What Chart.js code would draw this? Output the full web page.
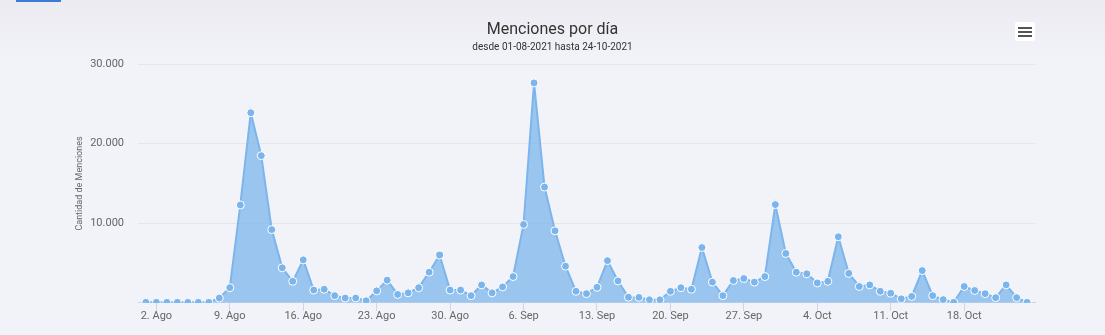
<!DOCTYPE html>
<html>
<head>
<meta charset="utf-8">
<script src="https://cdn.jsdelivr.net/npm/chart.js@4"></script>
<style>
  html, body { margin:0; padding:0; }
  body { width:1105px; height:335px; overflow:hidden; background:linear-gradient(#ebebf1, #f2f3f8 60px); font-family:Roboto, sans-serif; position:relative; }
  #topbar { position:absolute; left:16px; top:0; width:45px; height:2px; background:#3d7bd8; }
  #wrap { position:absolute; left:0; top:0; width:1105px; height:335px; }
  #menu { position:absolute; left:1015px; top:22px; width:20px; height:19px; background:#fff; border-radius:2px; }
  #menu span { position:absolute; left:3px; width:14px; height:2px; background:#555; }
</style>
</head>
<body>
<div id="topbar"></div>
<div id="wrap"><canvas id="chart"></canvas></div>
<div id="menu"><span style="top:5px"></span><span style="top:9px"></span><span style="top:13px"></span></div>
<script>
// días desde 01-08-2021 hasta 24-10-2021
const MONTHS = ['Ago','Sep','Oct'];
const DAYS_IN = [31, 30, 24];
const days = [];
MONTHS.forEach((m, i) => { for (let d = 1; d <= DAYS_IN[i]; d++) days.push(d + '. ' + m); });

// menciones por día
const menciones = [
  60, 60, 60, 60, 60, 60, 60, 600, 1900, 12300, 23900, 18500, 9200, 4400, 2700, 5400,
  1600, 1700, 900, 600, 600, 250, 1500, 2850, 1050, 1250, 1900, 3850, 6000, 1600, 1600,
  900, 2250, 1250, 2000, 3300, 9850, 27650, 14550, 9050, 4600, 1450, 1150, 1950, 5300, 2750,
  700, 680, 380, 380, 1450, 1900, 1700, 6950, 2600, 900, 2800, 3050, 2600, 3300,
  12350, 6200, 3850, 3650, 2500, 2700, 8300, 3700, 2050, 2250, 1450, 1200, 500, 800,
  4050, 900, 400, 60, 2050, 1550, 1150, 650, 2250, 650, 60
];

const xTicks = [];
for (let i = 1; i < days.length; i += 7) xTicks.push(i);
const yTicks = [10000, 20000, 30000];

const fmt = v => v.toLocaleString('de-DE');

new Chart(document.getElementById('chart'), {
  type: 'line',
  data: {
    datasets: [{
      label: 'Menciones',
      data: menciones.map((v, i) => ({ x: i, y: v })),
      borderColor: '#7cb5ec',
      borderWidth: 2,
      backgroundColor: 'rgba(124,181,236,0.75)',
      fill: 'origin',
      tension: 0,
      pointRadius: 4,
      pointBackgroundColor: '#7cb5ec',
      pointBorderColor: '#ffffff',
      pointBorderWidth: 1
    }]
  },
  options: {
    responsive: true,
    maintainAspectRatio: false,
    animation: false,
    layout: { padding: { left: 70, right: 70, top: 0, bottom: 13 } },
    plugins: {
      legend: { display: false },
      tooltip: { enabled: false },
      title: {
        display: true, text: 'Menciones por día', color: '#333333',
        font: { family: 'Roboto', size: 16, weight: 'normal' },
        padding: { top: 20, bottom: 2 }
      },
      subtitle: {
        display: true, text: 'desde 01-08-2021 hasta 24-10-2021', color: '#333333',
        font: { family: 'Roboto', size: 10 },
        padding: { top: 0, bottom: 11 }
      }
    },
    scales: {
      x: {
        type: 'linear',
        min: -0.75, max: days.length - 1 + 0.75,
        afterBuildTicks: s => { s.ticks = xTicks.map(v => ({ value: v })); },
        ticks: {
          autoSkip: false, maxRotation: 0, color: '#666666', padding: -1,
          font: { family: 'Roboto', size: 11 },
          callback: v => days[v]
        },
        grid: { drawOnChartArea: false, color: '#ccd6eb', tickLength: 8 },
        border: { color: '#ccd6eb' }
      },
      y: {
        min: 0, max: 30000,
        afterBuildTicks: s => { s.ticks = [0].concat(yTicks).map(v => ({ value: v })); },
        afterFit: s => { s.width = 68; },
        ticks: {
          color: '#666666', padding: 14,
          font: { family: 'Roboto', size: 11 },
          callback: v => v === 0 ? '' : fmt(v)
        },
        grid: { color: ctx => ctx.tick && ctx.tick.value === 0 ? 'rgba(0,0,0,0)' : '#e6e6e6', drawTicks: false },
        border: { display: false },
        title: {
          display: true, text: 'Cantidad de Menciones', color: '#666666',
          font: { family: 'Roboto', size: 9 }, padding: { top: 4, bottom: 7 }
        }
      }
    }
  }
});
</script>
</body>
</html>
